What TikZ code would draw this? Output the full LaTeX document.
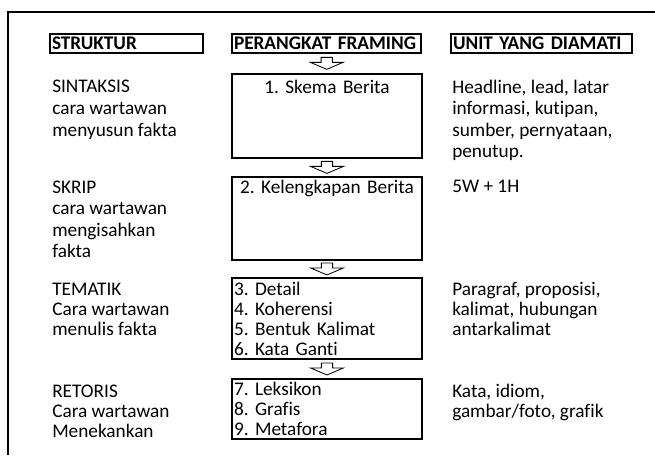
\documentclass[tikz,border=0pt]{standalone}
\usepackage{fontspec}
\setmainfont{Carlito}[Ligatures=NoCommon]
\usetikzlibrary{calc, positioning}
\frenchspacing

\begin{document}
\begin{tikzpicture}[
    hdr/.style={draw, line width=1pt, inner xsep=0.05cm, inner ysep=0pt,
                minimum height=0.475cm, align=left,
                font=\fontsize{13.7}{15.4}\selectfont\bfseries},
    frbox/.style={draw, line width=1.3pt, inner xsep=0.05cm,
                  inner ysep=0pt, text width=4.65cm,
                  font=\fontsize{13.7}{14.2}\selectfont},
    coltxt/.style={align=left, anchor=base west, inner sep=0pt,
                   font=\fontsize{13.7}{15.4}\selectfont},
    coltxtb/.style={align=left, anchor=base west, inner sep=0pt,
                    font=\fontsize{13.7}{14.2}\selectfont},
    blk/.style={draw, line width=0.6pt, line join=miter},
  ]
    \useasboundingbox (0,0) rectangle (16.375,11.375);
    % outer frame (top and left only)
    \draw[line width=1.3pt] (0.2,0) -- (0.2,11.075) -- (16.375,11.075);

    % column headers
    \node[hdr, text width=3.725cm] (hs) at (3.1625,10.2875) {STRUKTUR};
    \node[hdr, text width=4.625cm] (hp) at (8.1625,10.2875) {PERANGKAT FRAMING};
    \node[hdr, text width=4.425cm] (hu) at (13.5375,10.2875) {UNIT YANG DIAMATI};

    % framing boxes
    \node[frbox, anchor=north, align=center, text height=0.5cm,
          text depth=1.6cm] (b1) at (8.175,9.55) {1. Skema Berita};
    \node[frbox, anchor=north, align=center, text height=0.425cm,
          text depth=1.65cm] (b2) at (8.175,6.975) {2. Kelengkapan Berita};
    \node[frbox, align=left, minimum height=2.025cm] (b3) at (8.175,3.4125)
      {3. Detail\\4. Koherensi\\5. Bentuk Kalimat\\6. Kata Ganti};
    \node[frbox, align=left, minimum height=1.5cm] (b4) at (8.175,1.15)
      {7. Leksikon\\8. Grafis\\9. Metafora};

    % hollow block arrows
    \foreach \a/\b in {hp/b1, b1/b2, b2/b3, b3/b4}
      \draw[blk] ($(\a.south)!0.5!(\b.north)$) ++(-0.14,0.15) -- ++(0,-0.125)
        -- ++(-0.27,0) -- ++(0.41,-0.175) -- ++(0.41,0.175) -- ++(-0.27,0)
        -- ++(0,0.125) -- cycle;

    % struktur column (anchored at the last line's baseline)
    \node[coltxt] (s1) at (1.3,7.9675) {SINTAKSIS\\cara wartawan\\menyusun fakta};
    \node[coltxt] (s2) at (1.3,4.925) {SKRIP\\cara wartawan\\mengisahkan\\fakta};
    \node[coltxtb] (s3) at (1.3,3.0) {TEMATIK\\Cara wartawan\\menulis fakta};
    \node[coltxtb] (s4) at (1.3,0.45) {RETORIS\\Cara wartawan\\Menekankan};

    % unit column
    \node[coltxt] (u1) at (11.3,7.425)
      {Headline, lead, latar\\informasi, kutipan,\\sumber, pernyataan,\\penutup.};
    \node[coltxt] (u2) at (11.3,6.55) {5W + 1H};
    \node[coltxtb] (u3) at (11.3,3.0)
      {Paragraf, proposisi,\\kalimat, hubungan\\antarkalimat};
    \node[coltxtb] (u4) at (11.3,0.95) {Kata, idiom,\\gambar/foto, grafik};
  \end{tikzpicture}
\end{document}
